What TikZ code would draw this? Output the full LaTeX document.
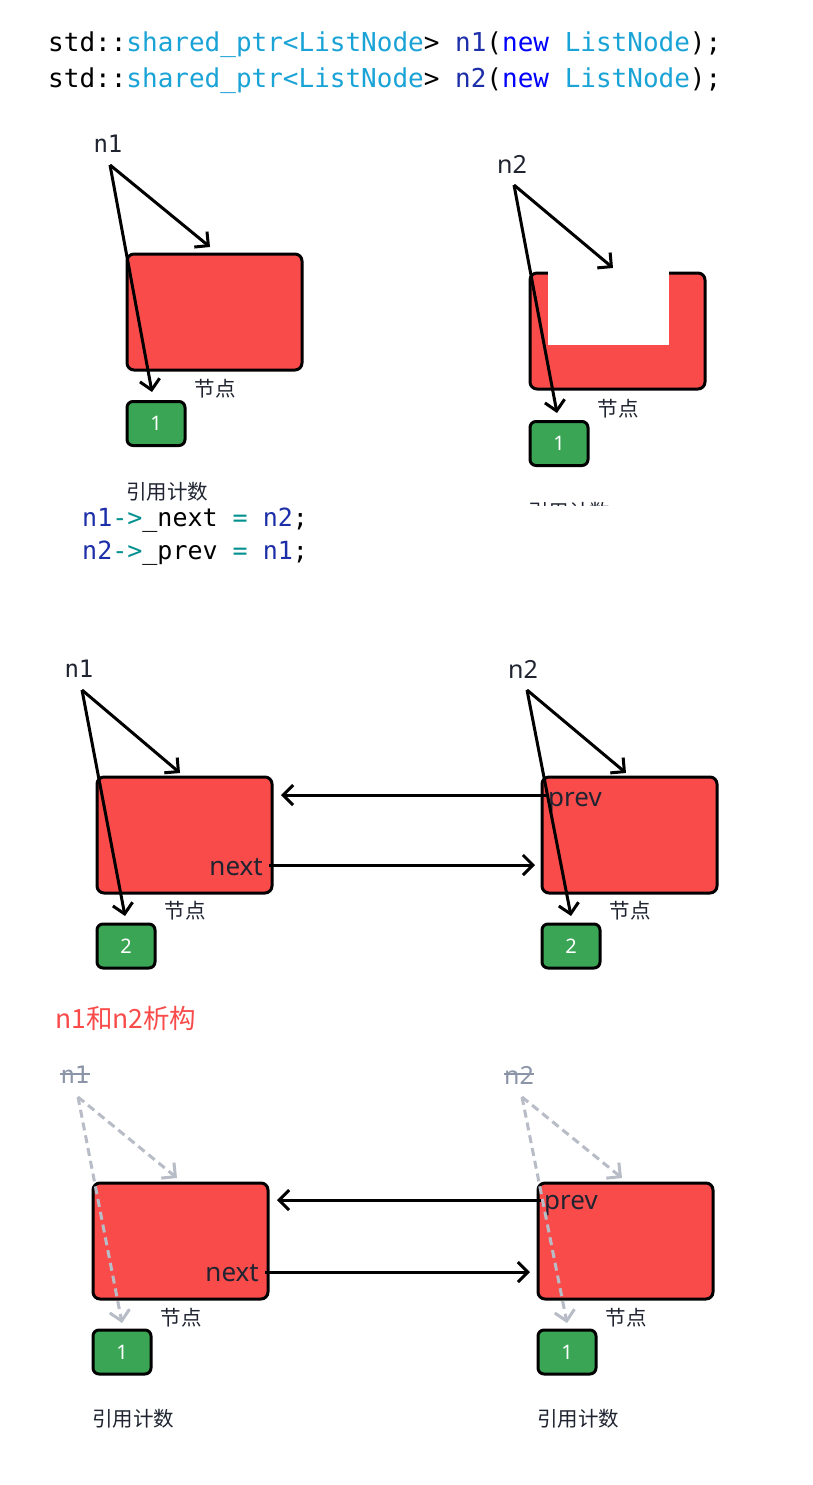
\documentclass[tikz,border=0pt]{standalone}
\usepackage{fontspec}
\setmainfont{Noto Sans}
\newfontfamily\codefont{DejaVu Sans Mono}
\newfontfamily\cjkfont{Noto Sans CJK SC}
\usetikzlibrary{arrows.meta,calc}
\definecolor{nodered}{HTML}{FA4B4B}
\definecolor{cntgreen}{HTML}{3AA655}
\definecolor{txtdark}{HTML}{1F2430}
\definecolor{codecyan}{HTML}{1AA3D6}
\definecolor{codeblue}{HTML}{0000FF}
\definecolor{codenavy}{HTML}{1C2FA8}
\definecolor{codeteal}{HTML}{009090}
\definecolor{greyln}{HTML}{B7BCC6}
\definecolor{greytx}{HTML}{8C95A8}
\tikzset{
  objbox/.style={draw=black, line width=3pt, fill=nodered, rounded corners=7pt,
    minimum width=175pt, minimum height=116pt, inner sep=0pt},
  cntbox/.style={draw=black, line width=3pt, fill=cntgreen, rounded corners=6pt,
    minimum width=58pt, minimum height=44pt, inner sep=0pt, text=white,
    font=\fontsize{20}{22}\selectfont},
  ptr/.style={-{Straight Barb[length=10pt,width=20pt]}, line width=3pt, draw=black},
  weakptr/.style={ptr, draw=greyln, dash pattern=on 8pt off 5pt},
  link/.style={-{Straight Barb[length=10pt,width=20pt]}, line width=3pt, draw=black},
  codeline/.style={anchor=west, inner sep=0pt, font=\codefont\fontsize{26}{30}\selectfont},
  codeline2/.style={anchor=west, inner sep=0pt, font=\codefont\fontsize{25}{30}\selectfont},
  ptrname/.style={inner sep=0pt, text=txtdark, font=\codefont\fontsize{24}{28}\selectfont},
  ptrnamesans/.style={inner sep=0pt, text=txtdark, font=\fontsize{25}{28}\selectfont},
  deadname/.style={inner sep=0pt, text=greytx, font=\codefont\fontsize{24}{28}\selectfont},
  deadnamesans/.style={inner sep=0pt, text=greytx, font=\fontsize{25}{28}\selectfont},
  field/.style={inner sep=0pt, text=txtdark, font=\fontsize{26}{30}\selectfont},
  caption/.style={inner sep=0pt, text=txtdark, font=\cjkfont\fontsize{20.5}{22}\selectfont},
  title/.style={inner sep=0pt, anchor=west, text=nodered, font=\cjkfont\fontsize{26.5}{30}\selectfont},
}
\begin{document}
\begin{tikzpicture}[x=1pt,y=-1pt]
\useasboundingbox[fill=white] (0,0) rectangle (812,1485);

% ---------- code ----------
\node[codeline] (code1) at (48,45) {std::\textcolor{codecyan}{shared\_ptr<ListNode}> \textcolor{codenavy}{n1}(\textcolor{codeblue}{new} \textcolor{codecyan}{ListNode});};
\node[codeline] (code2) at (48,81) {std::\textcolor{codecyan}{shared\_ptr<ListNode}> \textcolor{codenavy}{n2}(\textcolor{codeblue}{new} \textcolor{codecyan}{ListNode});};

% ---------- section 1 ----------
\node[objbox] (a1) at (214.5,312) {};
\node[cntbox] (c1) at (156,423.5) {1};
\node[caption] (a1cap) at (215,389) {节点};
\node[caption] (c1cap) at (167,492) {引用计数};
\node[ptrname] (p1) at (108,144) {n1};
\coordinate (p1o) at (110,165);
\coordinate (p1t) at (210,247);
\coordinate (p1c) at (152,392);
\draw[ptr] (p1o) -- (p1t);
\draw[ptr] (p1o) -- (p1c);

\node[objbox] (a2) at (617.5,331) {};
\fill[white] (548,271) rectangle (669,345);
\node[cntbox] (c2) at (559,443.5) {1};
\node[caption] (a2cap) at (618,409) {节点};
\begin{scope}
\clip (500,490) rectangle (660,505);
\node[caption] (c2cap) at (569,512) {引用计数};
\end{scope}
\node[ptrnamesans] (p2) at (512,164) {n2};
\coordinate (p2o) at (514,185);
\coordinate (p2t) at (613,268);
\coordinate (p2c) at (557,413);
\draw[ptr] (p2o) -- (p2t);
\draw[ptr] (p2o) -- (p2c);

\node[codeline2] (code3) at (82,520) {\textcolor{codenavy}{n1}\textcolor{codeteal}{->}\_next \textcolor{codeteal}{=} \textcolor{codenavy}{n2};};
\node[codeline2] (code4) at (82,553) {\textcolor{codenavy}{n2}\textcolor{codeteal}{->}\_prev \textcolor{codeteal}{=} \textcolor{codenavy}{n1};};

% ---------- section 2 ----------
\node[objbox] (b1) at (184.5,835) {};
\node[cntbox] (d1) at (126,946) {2};
\node[caption] (b1cap) at (185,911) {节点};
\node[field, anchor=east] (b1next) at (263,867) {next};
\node[ptrname] (q1) at (79,669) {n1};
\coordinate (q1o) at (82,690);
\coordinate (q1t) at (180,773);
\coordinate (q1c) at (125,916);
\draw[ptr] (q1o) -- (q1t);
\draw[ptr] (q1o) -- (q1c);

\node[objbox] (b2) at (629.5,835) {};
\node[cntbox] (d2) at (571,946) {2};
\node[caption] (b2cap) at (630,911) {节点};
\node[field, anchor=west] (b2prev) at (548,803) {prev};
\node[ptrnamesans] (q2) at (523,669) {n2};
\coordinate (q2o) at (527,690);
\coordinate (q2t) at (626,773);
\coordinate (q2c) at (571,916);
\draw[ptr] (q2o) -- (q2t);
\draw[ptr] (q2o) -- (q2c);

\coordinate (b1nx) at (269,865);
\coordinate (b2in) at (535,865);
\coordinate (b2pv) at (546,795);
\coordinate (b1in) at (281,795);
\draw[link] (b1nx) -- (b2in);
\draw[link] (b2pv) -- (b1in);

% ---------- section 3 ----------
\node[title] (ttl) at (55,1018) {n1和n2析构};

\node[objbox] (e1) at (180.5,1241) {};
\node[cntbox] (f1) at (122,1352) {1};
\node[caption] (e1cap) at (181,1318) {节点};
\node[caption] (f1cap) at (133,1419) {引用计数};
\node[field, anchor=east] (e1next) at (259,1273) {next};
\node[deadname] (r1) at (75,1075) {n1};
\draw[greytx, line width=1.6pt] ($(r1.west)+(0,-1)$) -- ($(r1.east)+(0,-1)$);
\coordinate (r1o) at (78,1097);
\coordinate (r1t) at (177,1178);
\coordinate (r1c) at (122,1323);
\draw[weakptr] (r1o) -- (r1t);
\draw[weakptr] (r1o) -- (r1c);

\node[objbox] (e2) at (625.5,1241) {};
\node[cntbox] (f2) at (567,1352) {1};
\node[caption] (e2cap) at (626,1318) {节点};
\node[caption] (f2cap) at (578,1419) {引用计数};
\node[field, anchor=west] (e2prev) at (544,1206) {prev};
\node[deadnamesans] (r2) at (519,1075) {n2};
\draw[greytx, line width=1.6pt] ($(r2.west)+(0,-1)$) -- ($(r2.east)+(0,-1)$);
\coordinate (r2o) at (522,1097);
\coordinate (r2t) at (622,1178);
\coordinate (r2c) at (567,1323);
\draw[weakptr] (r2o) -- (r2t);
\draw[weakptr] (r2o) -- (r2c);

\coordinate (e1nx) at (265,1272);
\coordinate (e2in) at (530,1272);
\coordinate (e2pv) at (541,1200);
\coordinate (e1in) at (277,1200);
\draw[link] (e1nx) -- (e2in);
\draw[link] (e2pv) -- (e1in);
\end{tikzpicture}
\end{document}
